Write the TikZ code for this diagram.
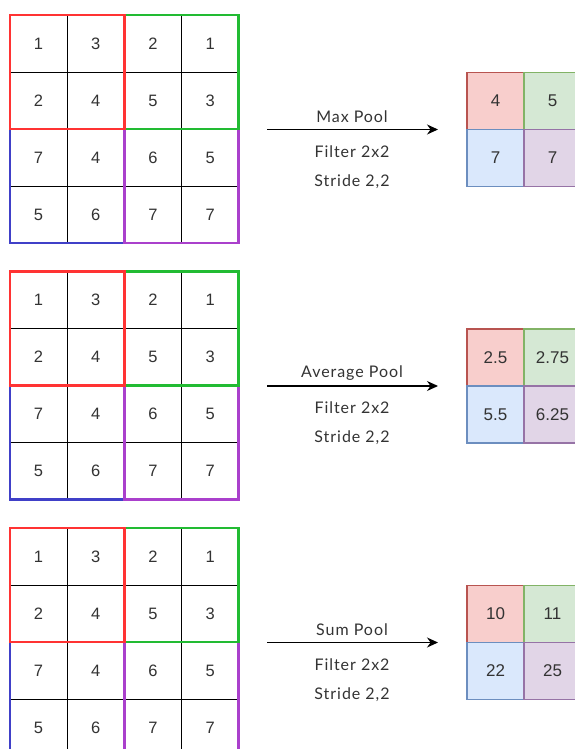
\documentclass[tikz,border=0pt]{standalone}
\usepackage{fontspec}
\setmainfont{Liberation Sans}
\newfontfamily\labelfont[LetterSpace=6]{Lato}
\usetikzlibrary{arrows.meta}
\definecolor{txt}{HTML}{333333}
\definecolor{qred}{HTML}{FF3333}
\definecolor{qgreen}{HTML}{22BB33}
\definecolor{qblue}{HTML}{4040C8}
\definecolor{qpurple}{HTML}{AA40CC}
\definecolor{fred}{HTML}{F8CECC}\definecolor{sred}{HTML}{B85450}
\definecolor{fgreen}{HTML}{D5E8D4}\definecolor{sgreen}{HTML}{82B366}
\definecolor{fblue}{HTML}{DAE8FC}\definecolor{sblue}{HTML}{6C8EBF}
\definecolor{fpurple}{HTML}{E1D5E7}\definecolor{spurple}{HTML}{9673A6}
\tikzset{
  cellbox/.style={draw=black, line width=0.9pt, minimum width=57pt, minimum height=57pt,
    inner sep=0pt, outer sep=0pt, anchor=north west, font=\fontsize{16.5}{16.5}\selectfont, text=txt},
  quad/.style={line width=2.6pt, draw=#1},
  outcell/.style={line width=1.1pt, minimum width=57pt, minimum height=57pt,
    inner sep=0pt, outer sep=0pt, anchor=north west, font=\fontsize{17}{17}\selectfont, text=txt},
  poolarrow/.style={line width=1.2pt, draw=black, -{Stealth[length=11pt,width=10pt]}},
  lbl/.style={font=\labelfont\fontsize{16}{16}\selectfont, text=txt, inner sep=0pt},
}
\begin{document}
\begin{tikzpicture}[x=1pt,y=-1pt]
\useasboundingbox[fill=white] (0,0) rectangle (574,749);
\foreach \g/\T/\OT/\name/\a/\b/\c/\d in
  {1/15/72.5/Max Pool/4/5/7/7,
   2/271.5/329/Average Pool/2.5/2.75/5.5/6.25,
   3/528/585.5/Sum Pool/10/11/22/25}{
  % input grid
  \foreach \v [count=\k from 0] in {1,3,2,1,2,4,5,3,7,4,6,5,5,6,7,7}{
    \pgfmathtruncatemacro{\row}{int(\k/4)}
    \pgfmathtruncatemacro{\col}{mod(\k,4)}
    \node[cellbox] (in\g-\row-\col) at (10+57.25*\col, \T+57*\row) {\v};
  }
  \draw[quad=qblue] (in\g-2-0.north west) rectangle (in\g-3-1.south east);
  \draw[quad=qpurple] (in\g-2-2.north west) rectangle (in\g-3-3.south east);
  \draw[quad=qgreen] (in\g-0-2.north west) rectangle (in\g-1-3.south east);
  \draw[quad=qred] (in\g-0-0.north west) rectangle (in\g-1-1.south east);
  % output
  \node[outcell, fill=fred, draw=sred] (out\g-0-0) at (467, \OT) {\a};
  \node[outcell, fill=fgreen, draw=sgreen] (out\g-0-1) at (524, \OT) {\b};
  \node[outcell, fill=fblue, draw=sblue] (out\g-1-0) at (467, \OT+57) {\c};
  \node[outcell, fill=fpurple, draw=spurple] (out\g-1-1) at (524, \OT+57) {\d};
  % arrow
  \coordinate (s\g) at (267, \OT+57);
  \coordinate (e\g) at (438, \OT+57);
  \draw[poolarrow] (s\g) -- (e\g);
  \node[lbl] (t\g) at (352, \OT+44) {\name};
  \node[lbl] (f\g) at (352, \OT+79) {Filter 2x2};
  \node[lbl] (st\g) at (352, \OT+109) {Stride 2,2};
}
\end{tikzpicture}
\end{document}
